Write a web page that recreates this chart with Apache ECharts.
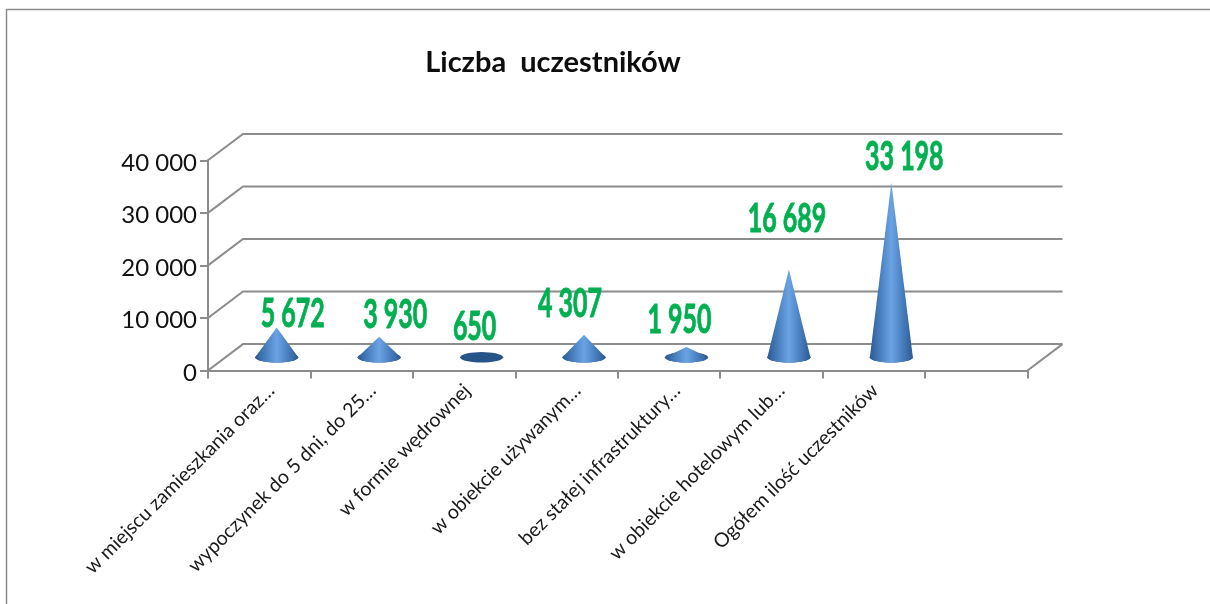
<!DOCTYPE html>
<html>
<head>
<meta charset="utf-8">
<title>Liczba uczestników</title>
<script src="https://cdn.jsdelivr.net/npm/echarts@6/dist/echarts.min.js"></script>
<style>
  html, body {margin: 0; background: #fff;}
  #chart {width: 1210px; height: 604px;}
</style>
</head>
<body>
<div id="chart"></div>
<script>
const categories = [
  "w miejscu zamieszkania oraz…",
  "wypoczynek do 5 dni, do 25…",
  "w formie wędrownej",
  "w obiekcie używanym…",
  "bez stałej infrastruktury…",
  "w obiekcie hotelowym lub…",
  "Ogółem ilość uczestników",
  "",
]
const participants = [5672, 3930, 650, 4307, 1950, 16689, 33198, null]
const yTicks = [0, 10000, 20000, 30000, 40000]

// fake 3D: how far the back wall sits from the front plane, in px
const DEPTH_X = 35
const DEPTH_Y = 26.4
const CONE_RX = 21.5
const CONE_RY = 5.2

// the value labels were moved by hand in the original, [dx, dy] from the cone tip
const valueLabelShift = [
  [16, -14], [16, -22], [-7, -27], [-14, -31], [-7, -27], [-2, -51], [13, -26],
]
// same for the slanted category labels, dx from the band centre
const categoryLabelShift = [12, 11, 3, 11, 8, 10, 1]

const GRID_COLOR = "#8c8c8c"
const FONT = "Lato, Carlito, sans-serif"

function formatThousands(value) {
  return String(value).replace(/\B(?=(\d{3})+$)/g, " ")
}

function renderWalls(params, api) {
  const rect = params.coordSys
  const y = api.coord([0, api.value(0)])[1]
  const style = {fill: "none", stroke: GRID_COLOR, lineWidth: 2}
  const children = [{
    type: "polyline",
    shape: {points: [
      [rect.x, y],
      [rect.x + DEPTH_X, y - DEPTH_Y],
      [rect.x + rect.width + DEPTH_X, y - DEPTH_Y],
    ]},
    style,
  }]
  if (api.value(0) === 0) {
    children.push({
      type: "line",
      shape: {
        x1: rect.x + rect.width, y1: y,
        x2: rect.x + rect.width + DEPTH_X, y2: y - DEPTH_Y,
      },
      style,
    })
  }
  return {type: "group", silent: true, children}
}

function renderCone(params, api) {
  const value = api.value(1)
  if (value == null || isNaN(value)) return null
  const index = api.value(0)
  const base = api.coord([index, 0])
  const top = api.coord([index, value])
  const cx = base[0] + DEPTH_X / 2
  const cy = base[1] - DEPTH_Y / 2
  const tipY = top[1] - DEPTH_Y / 2

  const rim = []
  for (let deg = 0; deg <= 180; deg += 10) {
    const a = deg * Math.PI / 180
    rim.push([cx + CONE_RX * Math.cos(a), cy + CONE_RY * Math.sin(a)])
  }
  const disc = []
  for (let deg = 0; deg < 360; deg += 10) {
    const a = deg * Math.PI / 180
    disc.push([cx + CONE_RX * Math.cos(a), cy + CONE_RY * Math.sin(a)])
  }
  const shade = {
    type: "linear", x: 0, y: 0, x2: 1, y2: 0,
    colorStops: [
      {offset: 0, color: "#2c5a93"},
      {offset: 0.25, color: "#4a80c0"},
      {offset: 0.5, color: "#6aa3e4"},
      {offset: 0.75, color: "#4a80c0"},
      {offset: 1, color: "#2c5a93"},
    ],
  }
  const children = [{type: "polygon", shape: {points: disc}, style: {fill: "#275488"}}]
  // a cone lower than its own rim only shows as the dark disc
  if (cy - tipY > CONE_RY) {
    children.push({type: "polygon", shape: {points: [[cx, tipY], ...rim]}, style: {fill: shade}})
  }
  const shift = valueLabelShift[index]
  children.push({
    type: "text",
    x: cx + shift[0],
    y: tipY + shift[1],
    scaleX: 0.78,
    scaleY: 1.28,
    style: {
      text: formatThousands(value),
      fill: "#00b050",
      stroke: "#00b050",
      lineWidth: 0.7,
      fontFamily: FONT,
      fontWeight: "bold",
      fontSize: 32,
      align: "center",
      verticalAlign: "middle",
    },
  })
  return {type: "group", children}
}

function renderCategoryLabel(params, api) {
  const index = api.value(0)
  const base = api.coord([index, 0])
  return {
    type: "text",
    x: base[0] + categoryLabelShift[index],
    y: base[1] + 17,
    rotation: Math.PI / 4,
    style: {
      text: categories[index],
      fill: "#1a1a1a",
      fontFamily: FONT,
      fontSize: 19.6,
      align: "right",
      verticalAlign: "middle",
    },
  }
}

const chart = echarts.init(document.getElementById("chart"), null, {renderer: "canvas"})
chart.setOption({
  backgroundColor: "#fff",
  animation: false,
  title: {
    text: "Liczba  uczestników",
    left: 548,
    top: 43,
    textAlign: "center",
    textStyle: {color: "#0d0d0d", fontFamily: FONT, fontWeight: "bold", fontSize: 29},
  },
  graphic: [{
    type: "rect",
    silent: true,
    shape: {x: 6.5, y: 9.5, width: 1300, height: 700},
    style: {fill: "none", stroke: "#8c8c8c", lineWidth: 1.5},
  }],
  grid: {left: 208, right: 182.5, top: 160.3, bottom: 233.5},
  xAxis: {
    type: "category",
    data: categories,
    boundaryGap: true,
    axisLine: {lineStyle: {color: GRID_COLOR, width: 2}},
    axisTick: {show: true, interval: 0, length: 8, alignWithLabel: false, lineStyle: {color: GRID_COLOR, width: 2}},
    axisLabel: {show: false},
    splitLine: {show: false},
  },
  yAxis: {
    type: "value",
    min: 0,
    max: 40000,
    interval: 10000,
    axisLine: {show: true, lineStyle: {color: GRID_COLOR, width: 2}},
    axisTick: {show: true, length: 8, lineStyle: {color: GRID_COLOR, width: 2}},
    axisLabel: {
      margin: 11,
      formatter: value => `{tick|${formatThousands(value)}}`,
      rich: {
        tick: {color: "#111", fontFamily: FONT, fontSize: 24, padding: [5, 0, 0, 0]},
      },
    },
    splitLine: {show: false},
  },
  series: [
    {
      type: "custom",
      z: 1,
      renderItem: renderWalls,
      data: yTicks.map(v => [v]),
      encode: {y: 0},
    },
    {
      type: "custom",
      z: 3,
      renderItem: renderCone,
      data: participants.map((v, i) => [i, v]),
      encode: {x: 0, y: 1},
    },
    {
      type: "custom",
      z: 3,
      renderItem: renderCategoryLabel,
      data: categories.map((c, i) => [i]),
      encode: {x: 0},
      clip: false,
    },
  ],
})
</script>
</body>
</html>
